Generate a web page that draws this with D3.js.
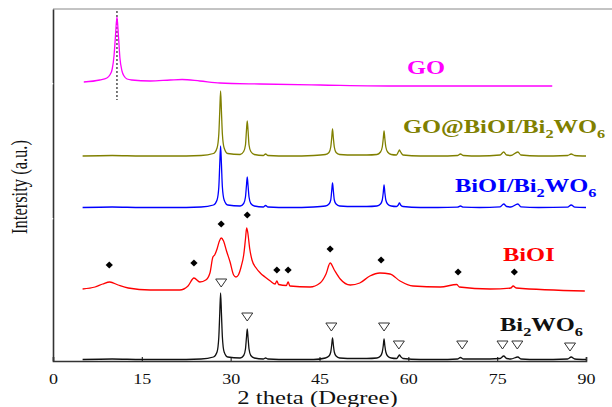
<!DOCTYPE html>
<html>
<head>
<meta charset="utf-8">
<script src="https://cdn.jsdelivr.net/npm/d3@7"></script>
<style>
  html, body { margin: 0; padding: 0; background: #fff; }
  svg { display: block; }
  text { font-family: "Liberation Serif", "Times New Roman", serif; }
</style>
</head>
<body>
<div id="chart"></div>
<script>
// XRD patterns, [2theta, intensity (a.u., stacked)]
const xTicks = [0, 15, 30, 45, 60, 75, 90];

const goPattern = [
  [5.2, 279], [7.9, 281], [9.1, 283], [9.6, 286], [10.0, 292], [10.3, 305], [10.55, 325],
  [10.8, 344], [11.05, 325], [11.3, 303], [11.65, 290], [12.0, 285], [12.5, 282], [13.3, 281],
  [16.4, 280], [19.8, 281], [21.8, 281.5], [24.8, 280], [28.2, 278], [35, 277], [45.1, 276],
  [58.6, 275], [70, 275], [84.3, 275]
];

const compositePattern = [
  [5, 205], [10, 205.5], [15, 205], [20, 205], [25, 205.5],
  [27.1, 207.5], [27.7, 213], [28.0, 227], [28.16, 250], [28.3, 270], [28.44, 250], [28.6, 227], [28.9, 213], [29.5, 207.5],
  [31.6, 206.5], [32.2, 209.5], [32.5, 216], [32.66, 230], [32.8, 240], [32.94, 230], [33.1, 216], [33.4, 209.5], [34, 206.5],
  [35.5, 205.5], [35.9, 207], [36.3, 205.5], [40, 205], [44, 205.5],
  [46.0, 206.5], [46.6, 208.5], [46.9, 214], [47.06, 223], [47.2, 232], [47.34, 223], [47.5, 214], [47.8, 208.5], [48.4, 206.5],
  [51, 206], [53, 206],
  [54.7, 206.5], [55.3, 209], [55.6, 214], [55.76, 222], [55.9, 230], [56.04, 222], [56.2, 214], [56.5, 209], [57.1, 206.5],
  [58.0, 206], [58.3, 209], [58.5, 211], [58.7, 209], [59.1, 206],
  [62, 205], [65, 205], [68.3, 205.5], [68.8, 207], [69.3, 205.5], [72, 205],
  [75.5, 206], [76.1, 209], [76.6, 206], [77.3, 205.5], [78.5, 209], [79.0, 206],
  [82, 205], [86.9, 205.5], [87.5, 207], [88.1, 205.5], [90, 205]
];

const heteroPattern = [
  [5, 153.5], [10, 154], [15, 153.5], [20, 153.5], [25, 154],
  [27.1, 156], [27.7, 161], [28.0, 174], [28.16, 197], [28.3, 215], [28.44, 197], [28.6, 174], [28.9, 161], [29.5, 156],
  [31.6, 155], [32.2, 157.5], [32.5, 164], [32.66, 175], [32.8, 184], [32.94, 175], [33.1, 164], [33.4, 157.5], [34, 155],
  [35.5, 154], [35.9, 155.5], [36.3, 154], [40, 153.5], [44, 154],
  [46.0, 155], [46.6, 157], [46.9, 161], [47.06, 170], [47.2, 178], [47.34, 170], [47.5, 161], [47.8, 157], [48.4, 155],
  [51, 154.5], [53, 154.5],
  [54.7, 155], [55.3, 157], [55.6, 161], [55.76, 168], [55.9, 176], [56.04, 168], [56.2, 161], [56.5, 157], [57.1, 155],
  [58.0, 154.5], [58.3, 156], [58.5, 158], [58.7, 156], [59.1, 154.5],
  [62, 153.5], [65, 153.5], [68.3, 153.8], [68.8, 155], [69.3, 153.8], [72, 153.5],
  [75.5, 154.2], [76.1, 157], [76.6, 154.5], [77.3, 154], [78.5, 157], [79.0, 154.2],
  [82, 153.5], [86.9, 153.8], [87.5, 156], [88.1, 153.8], [90, 153.5]
];

const bioiPattern = [
  [5, 72], [7.1, 74], [8.4, 77], [9.6, 79], [11.0, 76], [12.7, 73], [16.4, 71], [21.4, 71],
  [22.8, 75], [23.8, 83], [24.8, 79], [25.8, 81], [26.5, 88], [27.0, 104], [27.3, 106], [27.7, 112],
  [28.1, 120], [28.4, 123], [28.8, 120], [29.3, 110], [29.9, 99], [30.5, 86], [30.9, 84], [31.3, 86],
  [31.8, 95], [32.2, 106], [32.5, 122], [32.7, 133], [32.9, 128], [33.2, 113], [33.6, 101], [34.3, 93],
  [35.0, 88], [35.8, 84], [36.7, 80], [37.5, 77], [37.8, 80], [38.1, 76.5], [39.4, 75.5], [39.7, 79],
  [40.0, 75], [43.4, 74], [45.1, 78], [46.1, 87], [46.8, 98], [47.5, 91], [48.5, 82], [50.2, 76],
  [51.8, 78], [53.5, 85], [55.2, 88], [56.9, 87], [58.6, 80], [60.8, 75], [65.4, 74], [68.2, 76.5],
  [68.6, 74], [73.8, 72], [77.3, 73], [77.7, 75], [78.2, 73], [89.8, 70]
];

const bi2wo6Pattern = [
  [5, 1.5], [10, 2], [15, 1.5], [20, 1.5], [25, 2],
  [27.1, 4], [27.7, 9], [28.0, 24], [28.16, 48], [28.3, 68], [28.44, 48], [28.6, 24], [28.9, 9], [29.5, 4],
  [31.6, 3], [32.2, 5.5], [32.5, 12], [32.66, 23], [32.8, 32], [32.94, 23], [33.1, 12], [33.4, 5.5], [34, 3],
  [35.5, 2], [35.9, 3], [36.3, 2], [40, 1.5], [44, 1.5],
  [46.0, 3], [46.6, 5], [46.9, 9], [47.06, 16], [47.2, 23], [47.34, 16], [47.5, 9], [47.8, 5], [48.4, 3],
  [51, 2.5], [53, 2.5],
  [54.7, 3], [55.3, 5], [55.6, 9], [55.76, 15], [55.9, 22], [56.04, 15], [56.2, 9], [56.5, 5], [57.1, 3],
  [58.0, 2.5], [58.3, 4.5], [58.5, 6], [58.7, 4.5], [59.1, 2.5],
  [62, 1.5], [65, 1.5], [68.3, 2], [68.8, 3.5], [69.3, 2], [72, 2],
  [75.5, 2.5], [76.1, 5], [76.6, 2.5], [77.3, 2], [78.5, 4], [79.0, 2],
  [82, 1.5], [86.9, 2], [87.5, 4], [88.1, 2], [90, 1.5]
];

// reflection markers
const bioiMarks = [[9.5, 96], [23.8, 98], [28.4, 137], [32.8, 146], [37.8, 91], [39.7, 91],
  [46.8, 112], [55.4, 101], [68.4, 89], [77.9, 89]];
const bi2wo6Marks = [[28.4, 78], [32.8, 44], [47.0, 34], [55.9, 34], [58.4, 16], [69.1, 16],
  [75.9, 16], [78.4, 16], [87.3, 14]];

const goLine = 10.8;

const W = 612, H = 407;
const serif = '"Liberation Serif", "Times New Roman", serif';

const x = d3.scaleLinear().domain([0, 90]).range([53, 586]);
const y = d3.scaleLinear().domain([0, 352]).range([361, 9]);

const svg = d3.select('#chart').append('svg')
  .attr('width', W).attr('height', H)
  .attr('viewBox', `0 0 ${W} ${H}`);

const series = [
  { data: goPattern, color: '#ff00ff' },
  { data: compositePattern, color: '#808000' },
  { data: heteroPattern, color: '#0000ff' },
  { data: bioiPattern, color: '#ff0000' },
  { data: bi2wo6Pattern, color: '#111111' },
];

// frame: top border + left axis
svg.append('line')
  .attr('x1', x(0)).attr('x2', W).attr('y1', 9).attr('y2', 9)
  .attr('stroke', '#888').attr('stroke-width', 1);

const xAxis = d3.axisBottom(x).tickValues(xTicks).tickSize(-4).tickFormat('');
const gx = svg.append('g').attr('transform', `translate(0,${y(0)})`).call(xAxis);
gx.attr('font-family', null);
gx.select('.domain').attr('stroke', '#333').attr('stroke-width', 1.6);
gx.selectAll('.tick line').attr('stroke', '#333').attr('stroke-width', 1.2);

gx.selectAll('.tick').append('text')
  .attr('transform', 'translate(0,23) scale(1.2,1)')
  .attr('text-anchor', 'middle')
  .attr('fill', '#111')
  .style('font-family', serif)
  .style('font-size', '15px')
  .text((d) => d);

const yAxis = d3.axisLeft(y).tickValues([]).tickSizeOuter(0);
const gy = svg.append('g').attr('transform', `translate(${x(0)},0)`).call(yAxis);
gy.select('.domain').attr('stroke', '#333').attr('stroke-width', 1.6);

// little breaks in the left axis
[83, 218].forEach((yy) => {
  svg.append('rect').attr('x', x(0) - 1).attr('y', yy).attr('width', 1.2).attr('height', 1.4)
    .attr('fill', '#fff');
});

// dotted guide at GO reflection
svg.append('line')
  .attr('x1', x(goLine)).attr('x2', x(goLine))
  .attr('y1', 11).attr('y2', 100)
  .attr('stroke', '#222').attr('stroke-width', 1.2)
  .attr('stroke-dasharray', '2,2');

const line = d3.line()
  .x((d) => x(d[0]))
  .y((d) => y(d[1]))
  .curve(d3.curveMonotoneX);

svg.append('g').selectAll('path')
  .data(series)
  .join('path')
  .attr('d', (d) => line(d.data))
  .attr('fill', 'none')
  .attr('stroke', (d) => d.color)
  .attr('stroke-width', 1.3)
  .attr('stroke-linejoin', 'round');

// diamonds (BiOI)
svg.append('g').selectAll('path')
  .data(bioiMarks)
  .join('path')
  .attr('d', d3.symbol(d3.symbolSquare, 26))
  .attr('transform', (d) => `translate(${x(d[0])},${y(d[1])}) rotate(45)`)
  .attr('fill', '#000');

// open triangles (Bi2WO6)
const downTri = {
  draw(ctx) {
    ctx.moveTo(-5.5, -4);
    ctx.lineTo(5.5, -4);
    ctx.lineTo(0, 4);
    ctx.closePath();
  }
};
svg.append('g').selectAll('path')
  .data(bi2wo6Marks)
  .join('path')
  .attr('d', d3.symbol(downTri))
  .attr('transform', (d) => `translate(${x(d[0])},${y(d[1])})`)
  .attr('fill', '#fff')
  .attr('stroke', '#333')
  .attr('stroke-width', 1);

// series labels
const labels = [
  { parts: [['GO', 0]], x: 407, y: 74, color: '#ff00ff' },
  { parts: [['GO@BiOI/Bi', 0], ['2', 1], ['WO', 0], ['6', 1]], x: 403, y: 133, color: '#808000' },
  { parts: [['BiOI/Bi', 0], ['2', 1], ['WO', 0], ['6', 1]], x: 455, y: 192, color: '#0000ff' },
  { parts: [['BiOI', 0]], x: 503, y: 261, color: '#ff0000' },
  { parts: [['Bi', 0], ['2', 1], ['WO', 0], ['6', 1]], x: 500, y: 331, color: '#111' },
];

labels.forEach((lab) => {
  const t = svg.append('text')
    .attr('transform', `translate(${lab.x},${lab.y}) scale(1.36,1)`)
    .attr('fill', lab.color)
    .style('font-family', serif)
    .style('font-size', '18px')
    .style('font-weight', 'bold');
  lab.parts.forEach(([s, sub], i) => {
    const prevSub = i > 0 && lab.parts[i - 1][1];
    const ts = t.append('tspan').text(s);
    if (sub) ts.attr('dy', 5).style('font-size', '12px');
    else if (prevSub) ts.attr('dy', -5);
  });
});

// axis titles
svg.append('text')
  .attr('transform', `translate(${(x(0) + x(90)) / 2 - 2},404) scale(1.3,1)`)
  .attr('text-anchor', 'middle')
  .attr('fill', '#111')
  .style('font-family', serif)
  .style('font-size', '19px')
  .text('2 theta (Degree)');

svg.append('text')
  .attr('transform', 'translate(27,187) scale(1.35,1) rotate(-90)')
  .attr('text-anchor', 'middle')
  .attr('fill', '#111')
  .style('font-family', serif)
  .style('font-size', '16.5px')
  .text('Intersity (a.u.)');
</script>
</body>
</html>
